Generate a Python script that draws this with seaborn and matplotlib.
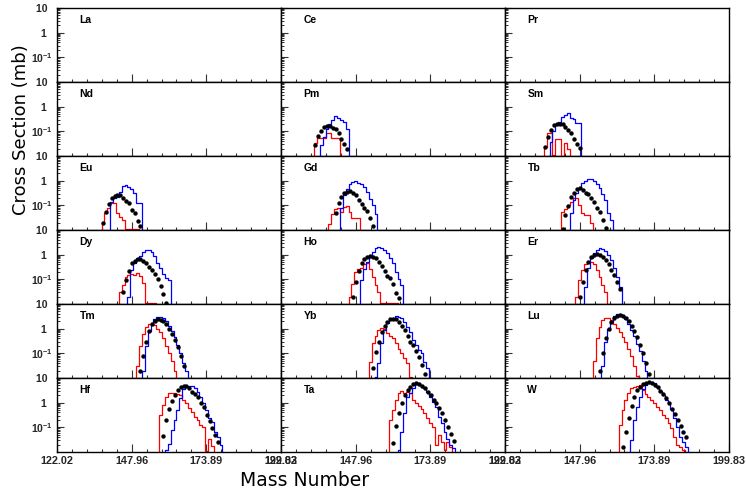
import numpy as np
import pandas as pd
import matplotlib
matplotlib.use("Agg")
import matplotlib.pyplot as plt
import seaborn as sns
from matplotlib.ticker import FixedLocator, FixedFormatter, AutoMinorLocator, LogLocator, NullFormatter

sns.set_theme(style="white")
plt.rcParams['font.family'] = ['Liberation Sans', 'DejaVu Sans']
plt.rcParams['mathtext.fontset'] = 'custom'
plt.rcParams['mathtext.rm'] = 'Liberation Sans'
plt.rcParams['mathtext.bf'] = 'Liberation Sans:bold'

# ---------------- data ----------------
ELEMENTS = ["La", "Ce", "Pr", "Nd", "Pm", "Sm", "Eu", "Gd", "Tb",
            "Dy", "Ho", "Er", "Tm", "Yb", "Lu", "Hf", "Ta", "W"]
X_TICKS = [122.02, 147.96, 173.89, 199.83]
X_TICK_LABELS = ["122.02", "147.96", "173.89", "199.83"]
Y_TICKS = [0.1, 1, 10]
Y_TICK_LABELS = [r"$\mathbf{10^{-1}}$", "1  ", "10  "]

# (first mass number, cross sections in mb per mass number)
RED_PM = (134, [0.035, 0.053, 0.053, 0.056, 0.083, 0.083, 0.053, 0.053, 0.053])
BLUE_PM = (136, [0.028, 0.06, 0.12, 0.2, 0.29, 0.43, 0.36, 0.3, 0.24, 0.13])
DOTS_PM = (134, [0.028, 0.065, 0.107, 0.155, 0.166, 0.158, 0.141, 0.12, 0.087, 0.048, 0.03, 0.019])

RED_SM = (136, [0.024, 0.083, 0.083, 0.011, 0.048, 0.048, 0.001, 0.035, 0.02])
BLUE_SM = (138, [0.038, 0.1, 0.19, 0.25, 0.38, 0.47, 0.56, 0.35, 0.32, 0.21, 0.22])
DOTS_SM = (136, [0.024, 0.06, 0.11, 0.18, 0.19, 0.2, 0.2, 0.155, 0.11, 0.083, 0.048, 0.03, 0.022])

RED_EU = (138, [0.022, 0.047, 0.076, 0.126, 0.126, 0.047, 0.035, 0.025, 0.0107, 0.0107, 0.0107, 0.0107, 0.0107])
BLUE_EU = (141, [0.14, 0.19, 0.22, 0.35, 0.6, 0.66, 0.56, 0.45, 0.31, 0.13, 0.13])
DOTS_EU = (138, [0.02, 0.055, 0.11, 0.19, 0.25, 0.26, 0.26, 0.2, 0.155, 0.12, 0.065, 0.05, 0.024, 0.0145])

RED_GD = (139, [0.018, 0.045, 0.071, 0.079, 0.056, 0.089, 0.093, 0.056, 0.032, 0.032, 0.032])
BLUE_GD = (143, [0.076, 0.26, 0.45, 0.71, 0.89, 0.95, 0.83, 0.71, 0.56, 0.35, 0.18, 0.1, 0.045])
DOTS_GD = (141, [0.05, 0.12, 0.22, 0.31, 0.35, 0.38, 0.32, 0.26, 0.17, 0.11, 0.076, 0.06, 0.03, 0.0145])

RED_TB = (142, [0.055, 0.071, 0.1, 0.14, 0.19, 0.19, 0.1, 0.048, 0.041, 0.041, 0.02])
BLUE_TB = (145, [0.048, 0.166, 0.32, 0.5, 0.78, 1.0, 1.12, 1.12, 0.95, 0.71, 0.5, 0.28, 0.166, 0.05, 0.025])
DOTS_TB = (142, [0.011, 0.041, 0.093, 0.22, 0.31, 0.48, 0.49, 0.42, 0.32, 0.28, 0.19, 0.14, 0.079, 0.055, 0.025, 0.0126])

RED_DY = (144, [0.032, 0.059, 0.129, 0.151, 0.166, 0.151, 0.174, 0.138, 0.069, 0.0107, 0.0107, 0.0107, 0.0107])
BLUE_DY = (147, [0.02, 0.24, 0.45, 0.71, 0.89, 1.32, 1.55, 1.55, 1.32, 0.89, 0.45, 0.28, 0.166, 0.11, 0.093])
DOTS_DY = (145, [0.032, 0.093, 0.22, 0.45, 0.58, 0.66, 0.65, 0.58, 0.45, 0.32, 0.24, 0.166, 0.102, 0.054, 0.026, 0.0112])

RED_HO = (146, [0.02, 0.065, 0.19, 0.26, 0.28, 0.4, 0.45, 0.26, 0.129, 0.059, 0.032, 0.0112, 0.0112, 0.0112, 0.0112, 0.0112, 0.0112])
BLUE_HO = (150, [0.093, 0.26, 0.52, 0.83, 1.32, 1.82, 2.0, 1.82, 1.55, 1.12, 0.71, 0.45, 0.2, 0.1, 0.059])
DOTS_HO = (147, [0.02, 0.081, 0.22, 0.45, 0.65, 0.83, 0.89, 0.83, 0.71, 0.52, 0.35, 0.22, 0.138, 0.11, 0.063, 0.029, 0.017])

RED_ER = (147, [0.02, 0.09, 0.25, 0.4, 0.5, 0.5, 0.4, 0.25, 0.13, 0.06, 0.03])
BLUE_ER = (150, [0.05, 0.3, 0.7, 1.2, 1.6, 1.8, 1.7, 1.4, 1.0, 0.6, 0.3, 0.12, 0.05])
DOTS_ER = (148, [0.02, 0.08, 0.25, 0.5, 0.8, 1.0, 1.1, 1.0, 0.8, 0.6, 0.4, 0.25, 0.15, 0.08, 0.04])

RED_TM = (150, [0.03, 0.2, 0.6, 1.2, 1.6, 1.7, 1.4, 1.0, 0.7, 0.4, 0.2, 0.1, 0.05, 0.02])
BLUE_TM = (152, [0.02, 0.2, 0.8, 1.6, 2.4, 3.0, 3.0, 2.6, 2.0, 1.3, 0.8, 0.45, 0.22, 0.1, 0.04, 0.02])
DOTS_TM = (151, [0.02, 0.08, 0.3, 0.8, 1.5, 2.1, 2.4, 2.3, 2.0, 1.5, 1.0, 0.6, 0.35, 0.18, 0.08, 0.03])

RED_YB = (153, [0.046, 0.26, 0.5, 0.89, 1.02, 1.0, 0.65, 0.5, 0.41, 0.26, 0.145, 0.1, 0.063, 0.039, 0.0112])
BLUE_YB = (155, [0.0112, 0.039, 0.26, 0.89, 1.66, 2.4, 2.63, 3.24, 2.88, 2.63, 1.9, 1.2, 0.76, 0.35, 0.22, 0.14, 0.1, 0.046, 0.025])
DOTS_YB = (154, [0.025, 0.11, 0.3, 0.76, 1.29, 1.9, 2.4, 2.57, 2.4, 1.9, 1.29, 0.89, 0.5, 0.3, 0.22, 0.129, 0.072, 0.034, 0.0145])

RED_LU = (153, [0.05, 0.4, 1.2, 2.2, 2.6, 2.6, 2.2, 1.6, 1.1, 0.7, 0.45, 0.28, 0.15, 0.08, 0.03, 0.012])
BLUE_LU = (156, [0.03, 0.3, 1.0, 2.0, 3.2, 3.8, 3.8, 3.2, 2.4, 1.6, 0.9, 0.5, 0.25, 0.12, 0.05, 0.02])
DOTS_LU = (155, [0.02, 0.1, 0.4, 1.0, 1.9, 2.8, 3.4, 3.6, 3.4, 2.8, 2.0, 1.3, 0.8, 0.45, 0.22, 0.1, 0.04, 0.015])

RED_HF = (158, [0.32, 0.79, 1.74, 2.4, 2.5, 2.5, 2.24, 2.0, 1.29, 0.93, 0.59, 0.43, 0.27, 0.2, 0.126, 0.1, 0.011, 0.035, 0.018])
BLUE_HF = (160, [0.0126, 0.022, 0.078, 0.2, 0.5, 1.5, 3.55, 4.47, 4.8, 4.6, 4.0, 2.82, 1.74, 0.93, 0.5, 0.23, 0.17, 0.066, 0.042, 0.02])
DOTS_HF = (159, [0.045, 0.19, 0.54, 1.2, 2.04, 3.24, 4.17, 4.73, 4.73, 3.8, 2.82, 2.24, 1.66, 0.93, 0.65, 0.32, 0.18, 0.091, 0.049, 0.026])

RED_TA = (160, [0.2, 0.5, 1.29, 2.4, 3.1, 2.5, 2.82, 2.5, 1.29, 0.93, 0.72, 0.54, 0.37, 0.23, 0.145, 0.107, 0.019, 0.049, 0.025, 0.0126, 0.025, 0.016])
BLUE_TA = (163, [0.0126, 0.066, 0.37, 1.74, 2.4, 3.8, 5.75, 5.25, 4.47, 3.8, 2.82, 1.74, 1.1, 0.69, 0.27, 0.145, 0.066, 0.035, 0.02, 0.014])
DOTS_TA = (161, [0.024, 0.11, 0.37, 0.93, 2.04, 3.24, 4.47, 5.75, 6.0, 5.75, 4.8, 3.8, 2.82, 2.04, 1.29, 0.93, 0.59, 0.37, 0.2, 0.107, 0.054, 0.029])

RED_W = (162, [0.123, 0.5, 1.29, 2.5, 3.8, 4.47, 4.8, 5.25, 3.24, 2.24, 1.74, 1.29, 0.93, 0.69, 0.5, 0.32, 0.23, 0.145, 0.091, 0.042, 0.02, 0.016, 0.0126])
BLUE_W = (166, [0.031, 0.2, 0.69, 1.74, 3.47, 5.25, 6.45, 6.6, 6.0, 4.47, 3.1, 2.04, 1.29, 0.93, 0.54, 0.23, 0.107, 0.042, 0.025, 0.016])
DOTS_W = (163, [0.0155, 0.066, 0.23, 0.72, 1.74, 3.24, 4.47, 5.75, 6.45, 6.9, 6.45, 5.25, 4.17, 3.1, 2.24, 1.5, 0.93, 0.54, 0.35, 0.2, 0.11, 0.066, 0.042])

RED = {"Pm": RED_PM, "Sm": RED_SM, "Eu": RED_EU, "Gd": RED_GD, "Tb": RED_TB,
       "Dy": RED_DY, "Ho": RED_HO, "Er": RED_ER, "Tm": RED_TM, "Yb": RED_YB,
       "Lu": RED_LU, "Hf": RED_HF, "Ta": RED_TA, "W": RED_W}
BLUE = {"Pm": BLUE_PM, "Sm": BLUE_SM, "Eu": BLUE_EU, "Gd": BLUE_GD, "Tb": BLUE_TB,
        "Dy": BLUE_DY, "Ho": BLUE_HO, "Er": BLUE_ER, "Tm": BLUE_TM, "Yb": BLUE_YB,
        "Lu": BLUE_LU, "Hf": BLUE_HF, "Ta": BLUE_TA, "W": BLUE_W}
DOTS = {"Pm": DOTS_PM, "Sm": DOTS_SM, "Eu": DOTS_EU, "Gd": DOTS_GD, "Tb": DOTS_TB,
        "Dy": DOTS_DY, "Ho": DOTS_HO, "Er": DOTS_ER, "Tm": DOTS_TM, "Yb": DOTS_YB,
        "Lu": DOTS_LU, "Hf": DOTS_HF, "Ta": DOTS_TA, "W": DOTS_W}

FLOOR = 1e-4


def step_frame(series):
    start, vals = series
    vals = np.asarray(vals, dtype=float)
    m = np.arange(start, start + len(vals))
    xs = np.concatenate([[m[0] - 0.5], m - 0.5, [m[-1] + 0.5, m[-1] + 0.5]])
    ys = np.concatenate([[FLOOR], vals, [vals[-1], FLOOR]])
    return pd.DataFrame({"mass": xs, "sigma": ys})


def dot_frame(series):
    start, vals = series
    m = np.arange(start, start + len(vals))
    return pd.DataFrame({"mass": m, "sigma": vals})


# ---------------- figure ----------------
fig, axes = plt.subplots(6, 3, figsize=(7.46, 4.95), dpi=100, sharex=False, sharey=False)
fig.subplots_adjust(left=57 / 746, right=729 / 746, top=1 - 8 / 495, bottom=1 - 452 / 495,
                    wspace=0, hspace=0)

for i, el in enumerate(ELEMENTS):
    r, c = divmod(i, 3)
    ax = axes[r, c]
    ax.set_facecolor("white")
    ax.set_yscale("log")
    if el in RED:
        sns.lineplot(data=step_frame(RED[el]), x="mass", y="sigma", drawstyle="steps-post",
                     estimator=None, sort=False, color="#ff0000", lw=0.9, legend=False, ax=ax)
        sns.lineplot(data=step_frame(BLUE[el]), x="mass", y="sigma", drawstyle="steps-post",
                     estimator=None, sort=False, color="#0000ff", lw=0.9, legend=False, ax=ax)
        sns.scatterplot(data=dot_frame(DOTS[el]), x="mass", y="sigma", color="black",
                        s=10, linewidth=0, legend=False, ax=ax, zorder=5)
    ax.set_xlim(X_TICKS[0], X_TICKS[-1])
    ax.set_ylim(0.01, 10)
    ax.set_xlabel("")
    ax.set_ylabel("")

    for sp in ax.spines.values():
        sp.set_color("black")
        sp.set_linewidth(1.0)
        sp.set_visible(True)

    ax.xaxis.set_major_locator(FixedLocator(X_TICKS))
    ax.xaxis.set_minor_locator(AutoMinorLocator(5))
    ax.yaxis.set_major_locator(FixedLocator(Y_TICKS))
    ax.yaxis.set_minor_locator(LogLocator(base=10, subs=np.arange(2, 10) * 1.0, numticks=20))
    ax.yaxis.set_minor_formatter(NullFormatter())

    ax.tick_params(axis="x", which="major", direction="in", length=5.5, width=0.8,
                   color="#333333", bottom=True, top=False, pad=3)
    ax.tick_params(axis="x", which="minor", direction="in", length=2.4, width=0.8,
                   color="#333333", bottom=True, top=False)
    ax.tick_params(axis="y", which="major", direction="in", length=4.8, width=0.8,
                   color="#333333", left=True, right=False, pad=3)
    ax.tick_params(axis="y", which="minor", direction="in", length=2.4, width=0.7,
                   color="#333333", left=True, right=False)

    if r == 5:
        ax.xaxis.set_major_formatter(FixedFormatter(X_TICK_LABELS))
        for lab in ax.get_xticklabels():
            lab.set_fontweight("bold")
            lab.set_fontsize(7.8)
    else:
        ax.set_xticklabels([])

    if c == 0:
        ax.yaxis.set_major_formatter(FixedFormatter(Y_TICK_LABELS))
        for lab in ax.get_yticklabels():
            lab.set_fontweight("bold")
            lab.set_fontsize(7.5)
    else:
        ax.set_yticklabels([])

    ax.text(0.10, 0.842, el, transform=ax.transAxes, fontsize=7.5, fontweight="bold",
            va="center", ha="left", color="black")

fig.text(0.028, 1 - 130 / 495, "Cross Section (mb)", rotation=90, ha="center", va="center",
         fontsize=13, family=["DejaVu Sans"], color="black")
fig.text(305 / 746, 1 - 481 / 495, "Mass Number", ha="center", va="center",
         fontsize=13.5, family=["DejaVu Sans"], color="black")

fig.savefig("out.png", dpi=100, facecolor="white")
